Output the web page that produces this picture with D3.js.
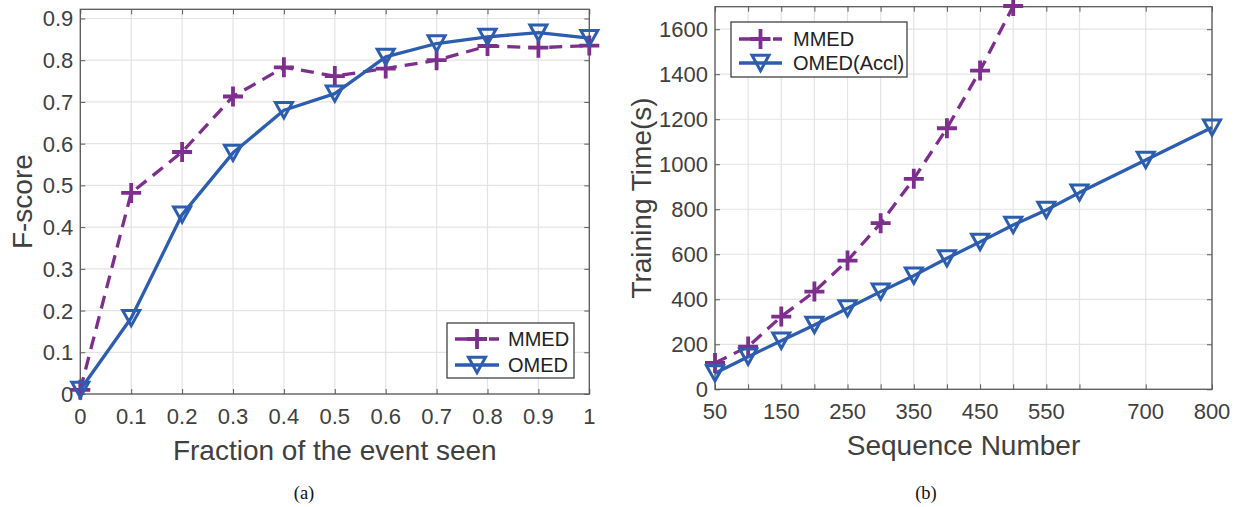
<!DOCTYPE html>
<html><head><meta charset="utf-8">
<script src="https://cdn.jsdelivr.net/npm/d3@7"></script>
<style>body{margin:0;background:#fff}svg{display:block}</style>
</head><body>
<svg id="c" width="1241" height="507"></svg>
<script>
// Panel (a)
const fracX = [0,0.1,0.2,0.3,0.4,0.5,0.6,0.7,0.8,0.9,1.0];
const mmedF = [0.01,0.482,0.58,0.713,0.783,0.762,0.78,0.80,0.834,0.83,0.835];
const omedF = [0.01,0.182,0.43,0.578,0.68,0.72,0.808,0.84,0.856,0.866,0.853];
const fracTicks = [0,0.1,0.2,0.3,0.4,0.5,0.6,0.7,0.8,0.9,1];
const fscoreTicks = [0,0.1,0.2,0.3,0.4,0.5,0.6,0.7,0.8,0.9];
// Panel (b)
const seqMMED = [50,100,150,200,250,300,350,400,450,500];
const timeMMED = [117,190,323,434,572,738,935,1160,1416,1703];
const seqOMED = [50,100,150,200,250,300,350,400,450,500,550,600,700,800];
const timeOMED = [71,145,216,286,360,434,505,582,655,730,797,874,1019,1163];
const seqTicks = [50,100,150,200,250,300,350,400,450,500,550,600,700,800];
const seqLabels = [50,150,250,350,450,550,700,800];
const timeTicks = [0,200,400,600,800,1000,1200,1400,1600];

const PURPLE = "#7E2F8E", BLUE = "#2C5DAE", TXT = "#404040", GRID = "#e3e3e3", AX = "#5a5a5a";
const FONT = "'Liberation Sans', Arial, Helvetica, sans-serif";
const svg = d3.select("#c");

function triPath(s){ // down-pointing triangle centred
  const w = s, h = s*0.9;
  return `M${-w/2},${-h/2}L${w/2},${-h/2}L0,${h/2}Z`;
}
function plusPath(s){ return `M${-s/2},0H${s/2}M0,${-s/2}V${s/2}`; }

function panel(o){
  const g = svg.append("g");
  const x = o.x, y = o.y;
  const [x0,x1] = x.range(), [y0,y1] = y.range();
  // grid
  g.selectAll(".gx").data(o.xGrid).join("line")
    .attr("x1",d=>x(d)).attr("x2",d=>x(d)).attr("y1",y0).attr("y2",y1)
    .attr("stroke",GRID).attr("stroke-width",1.2);
  g.selectAll(".gy").data(o.yGrid).join("line")
    .attr("y1",d=>y(d)).attr("y2",d=>y(d)).attr("x1",x0).attr("x2",x1)
    .attr("stroke",GRID).attr("stroke-width",1.2);
  // axes with inward ticks
  const tl = 5;
  const bottom = d3.axisBottom(x).tickValues(o.xGrid).tickSizeInner(-tl).tickSizeOuter(0).tickFormat("");
  const top = d3.axisTop(x).tickValues(o.xGrid).tickSizeInner(-tl).tickSizeOuter(0).tickFormat("");
  const left = d3.axisLeft(y).tickValues(o.yGrid).tickSizeInner(-tl).tickSizeOuter(0).tickFormat("");
  const right = d3.axisRight(y).tickValues(o.yGrid).tickSizeInner(-tl).tickSizeOuter(0).tickFormat("");
  [[bottom,`translate(0,${y0})`],[top,`translate(0,${y1})`],[left,`translate(${x0},0)`],[right,`translate(${x1},0)`]].forEach(([a,t])=>{
    const ag = g.append("g").attr("transform",t).call(a);
    ag.select(".domain").remove();
    ag.selectAll("line").attr("stroke",AX).attr("stroke-width",1);
  });
  g.append("rect").attr("x",x0).attr("y",y1).attr("width",x1-x0).attr("height",y0-y1)
    .attr("fill","none").attr("stroke",AX).attr("stroke-width",1.3);
  // tick labels
  g.selectAll(".xl").data(o.xLabels).join("text")
    .attr("x",d=>x(d)).attr("y",y0+30).attr("text-anchor","middle")
    .attr("font-family",FONT).attr("font-size",22).attr("fill",TXT).text(o.xFmt);
  g.selectAll(".yl").data(o.yGrid).join("text")
    .attr("x",x0-7).attr("y",d=>y(d)+8).attr("text-anchor","end")
    .attr("font-family",FONT).attr("font-size",22).attr("fill",TXT).text(o.yFmt);
  // axis titles
  g.append("text").attr("x",(x0+x1)/2).attr("y",y0+66).attr("text-anchor","middle")
    .attr("font-family",FONT).attr("font-size",28).attr("fill",TXT).text(o.xTitle);
  g.append("text").attr("transform",`translate(${o.yTitleX},${(y0+y1)/2}) rotate(-90)`)
    .attr("text-anchor","middle").attr("font-family",FONT).attr("font-size",28).attr("fill",TXT).text(o.yTitle);
  // caption
  g.append("text").attr("x",o.capX).attr("y",499).attr("text-anchor","middle")
    .attr("font-family","'Liberation Serif', 'Times New Roman', serif").attr("font-size",18.5).attr("fill","#111").text(o.cap);
  // series
  o.series.forEach(s=>{
    const line = d3.line().x((d,i)=>x(s.xs[i])).y(d=>y(d));
    g.append("path").attr("d",line(s.ys)).attr("fill","none").attr("stroke",s.color)
      .attr("stroke-width",3.3).attr("stroke-dasharray",s.dash||null).attr("stroke-linejoin","round");
    g.selectAll(null).data(s.ys).join("path")
      .attr("transform",(d,i)=>`translate(${x(s.xs[i])},${y(d)})`)
      .attr("d",s.marker==="plus"?plusPath(20):triPath(17))
      .attr("fill","none").attr("stroke",s.color).attr("stroke-width",s.marker==="plus"?3.8:3)
      .attr("stroke-linejoin","miter");
  });
  // legend
  const L = o.legend;
  g.append("rect").attr("x",L.x).attr("y",L.y).attr("width",L.w).attr("height",L.h)
    .attr("fill","#fff").attr("stroke","#333").attr("stroke-width",1.2);
  o.series.forEach((s,i)=>{
    const cy = L.y + L.r0 + i*L.dy;
    g.append("line").attr("x1",L.x+L.lx0).attr("x2",L.x+L.lx1).attr("y1",cy).attr("y2",cy)
      .attr("stroke",s.color).attr("stroke-width",3.3).attr("stroke-dasharray",s.dash?"13,4":null);
    g.append("path").attr("transform",`translate(${L.x+(L.lx0+L.lx1)/2},${cy})`)
      .attr("d",s.marker==="plus"?plusPath(20):triPath(17))
      .attr("fill","none").attr("stroke",s.color).attr("stroke-width",s.marker==="plus"?3.8:3);
    g.append("text").attr("x",L.x+L.tx).attr("y",cy+7).attr("font-family",FONT)
      .attr("font-size",20).attr("fill","#222").text(s.name);
  });
}

panel({
  x: d3.scaleLinear().domain([0,1]).range([80.3,589.3]),
  y: d3.scaleLinear().domain([0,0.922]).range([394,9.3]),
  xGrid: fracTicks, xLabels: fracTicks, yGrid: fscoreTicks,
  xFmt: d=>String(+d.toFixed(1)), yFmt: d=>String(+d.toFixed(1)),
  xTitle: "Fraction of the event seen", yTitle: "F-score", yTitleX: 32,
  cap: "(a)", capX: 304,
  series: [
    {name:"MMED", xs:fracX, ys:mmedF, color:PURPLE, dash:"13,8", marker:"plus"},
    {name:"OMED", xs:fracX, ys:omedF, color:BLUE, marker:"tri"}
  ],
  legend: {x:447, y:323, w:127, h:55, r0:16, dy:26, lx0:8, lx1:52, tx:61}
});

panel({
  x: d3.scaleLinear().domain([50,800]).range([715,1212]),
  y: d3.scaleLinear().domain([0,1700]).range([389.3,6.7]),
  xGrid: seqTicks, xLabels: seqLabels, yGrid: timeTicks,
  xFmt: d=>String(d), yFmt: d=>String(d),
  xTitle: "Sequence Number", yTitle: "Training Time(s)", yTitleX: 651,
  cap: "(b)", capX: 926,
  series: [
    {name:"MMED", xs:seqMMED, ys:timeMMED, color:PURPLE, dash:"13,8", marker:"plus"},
    {name:"OMED(Accl)", xs:seqOMED, ys:timeOMED, color:BLUE, marker:"tri"}
  ],
  legend: {x:731, y:22, w:176, h:55, r0:17, dy:24, lx0:8, lx1:51, tx:62}
});
</script>
</body></html>
